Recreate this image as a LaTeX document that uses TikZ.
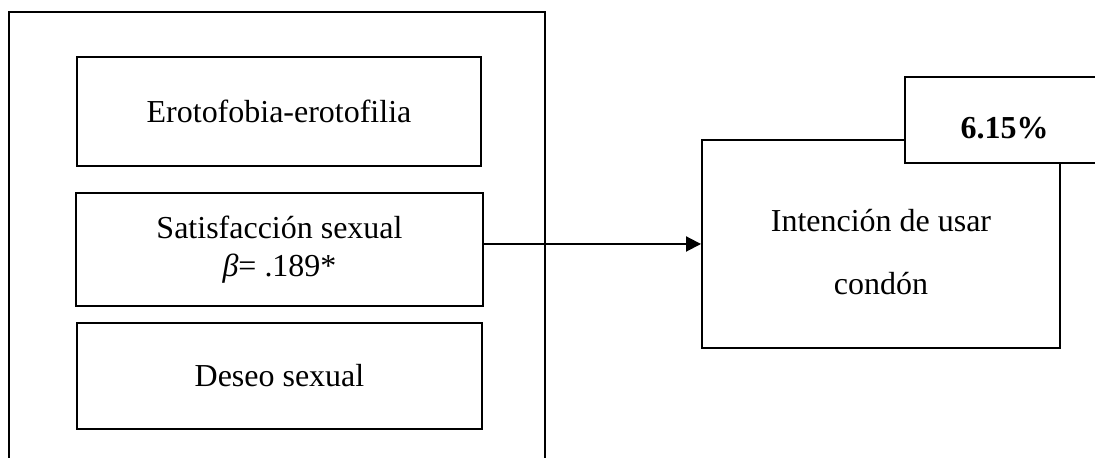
\documentclass[tikz,border=0pt]{standalone}
\usepackage{fontspec}
\setmainfont{Liberation Serif}
\usetikzlibrary{arrows.meta}

\tikzset{
  var/.style={draw, line width=1.1pt, align=center, inner sep=0pt,
    font=\fontsize{18.2}{21.6}\selectfont},
  arr/.style={line width=1.1pt, -{Triangle[length=0.3cm,width=0.3cm]}}
}

\begin{document}
\begin{tikzpicture}
        \useasboundingbox (0,0) rectangle (21.9,9.16);

        % Define the predictors
        \node[var, minimum width=8.08cm, minimum height=2.18cm] (ero) at (5.58,6.93) {Erotofobia-erotofilia};
        \node[var, minimum width=8.14cm, minimum height=2.26cm] (sat) at (5.59,4.17) {Satisfacción sexual\\{\itshape β}= .189*};
        \node[var, minimum width=8.1cm, minimum height=2.12cm] (des) at (5.59,1.64) {Deseo sexual};

        % Define the outcome
        \node[var, minimum width=7.16cm, minimum height=4.16cm, text height=2.04cm, text depth=0pt,
              font=\fontsize{18.2}{35.9}\selectfont] (int) at (17.62,4.28) {Intención de usar\\condón};
        \node[var, fill=white, minimum width=3.98cm, minimum height=1.72cm, text height=0.76cm, text depth=0pt,
              font=\fontsize{18.2}{21.6}\selectfont\bfseries] (pct) at (20.09,6.76) {6.15\%};

        % Draw arrow
        \draw[arr] (sat.east |- int.west) -- (int.west);

        % Draw set
        \draw[line width=1.1pt] (0.18,-0.2) -- (0.18,8.92) -- (10.9,8.92) -- (10.9,-0.2);
    \end{tikzpicture}
\end{document}
